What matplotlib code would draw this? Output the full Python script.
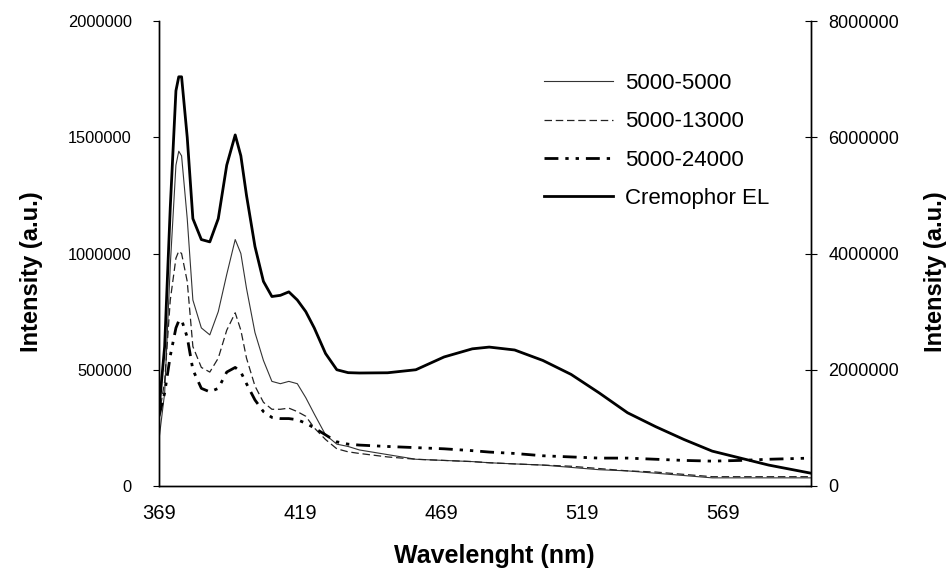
"""Fluorescence spectra: polymer micelles vs Cremophor EL"""
import matplotlib
matplotlib.use("Agg")
import matplotlib.pyplot as plt

plt.rcParams['font.family'] = ['Liberation Sans', 'DejaVu Sans']

# wavelength grid (nm)
wavelength = [369, 371, 373, 375, 376, 377, 379, 381, 384, 387, 390, 393, 396, 398, 400,
              403, 406, 409, 412, 415, 418, 421, 424, 428, 432, 436, 440, 450, 460, 470,
              480, 486, 495, 505, 515, 525, 535, 545, 555, 565, 575, 585, 600]

# left axis series (a.u., millions)
s_5000_5000 = [0.20, 0.40, 0.95, 1.38, 1.44, 1.42, 1.15, 0.80, 0.68, 0.65, 0.75, 0.91, 1.06, 1.00, 0.85,
               0.66, 0.54, 0.45, 0.44, 0.45, 0.44, 0.38, 0.31, 0.22, 0.18, 0.17, 0.155, 0.135, 0.115, 0.11,
               0.105, 0.10, 0.095, 0.09, 0.08, 0.07, 0.065, 0.055, 0.045, 0.035, 0.035, 0.035, 0.035]
s_5000_13000 = [0.30, 0.45, 0.80, 0.98, 1.01, 1.00, 0.88, 0.60, 0.51, 0.49, 0.55, 0.67, 0.745, 0.67, 0.55,
                0.43, 0.36, 0.33, 0.33, 0.335, 0.32, 0.30, 0.25, 0.20, 0.16, 0.147, 0.14, 0.125, 0.115, 0.11,
                0.105, 0.10, 0.095, 0.09, 0.085, 0.075, 0.065, 0.06, 0.05, 0.04, 0.04, 0.04, 0.04]
s_5000_24000 = [0.30, 0.40, 0.56, 0.68, 0.71, 0.715, 0.64, 0.50, 0.42, 0.405, 0.42, 0.49, 0.51, 0.49, 0.44,
                0.37, 0.32, 0.295, 0.29, 0.29, 0.285, 0.27, 0.25, 0.22, 0.19, 0.18, 0.176, 0.17, 0.165, 0.16,
                0.152, 0.146, 0.14, 0.13, 0.125, 0.12, 0.12, 0.115, 0.11, 0.107, 0.11, 0.115, 0.12]

# right axis series (a.u., millions)
cremophor = [1.32, 2.4, 4.8, 6.8, 7.04, 7.04, 6.0, 4.6, 4.24, 4.2, 4.6, 5.52, 6.04, 5.68, 5.0,
             4.12, 3.52, 3.26, 3.28, 3.34, 3.2, 3.0, 2.72, 2.28, 2.0, 1.95, 1.944, 1.948, 2.0, 2.22,
             2.36, 2.39, 2.34, 2.16, 1.92, 1.6, 1.26, 1.02, 0.8, 0.6, 0.48, 0.36, 0.22]

labels = ['5000-5000', '5000-13000', '5000-24000', 'Cremophor EL']
x_ticks = [369, 419, 469, 519, 569]
left_ticks = [0, 500000, 1000000, 1500000, 2000000]
right_ticks = [0, 2000000, 4000000, 6000000, 8000000]

fig = plt.figure(figsize=(9.51, 5.68), dpi=100)
ax = fig.add_axes([159 / 951, 1 - 486 / 568, 652 / 951, 465 / 568])
ax2 = ax.twinx()

M = 1e6
l1, = ax.plot(wavelength, [v * M for v in s_5000_5000], color='#333333', lw=0.8)
l2, = ax.plot(wavelength, [v * M for v in s_5000_13000], color='#222222', lw=0.9, dashes=(6, 3))
l3, = ax.plot(wavelength, [v * M for v in s_5000_24000], color='black', lw=2.0,
              dashes=(5, 2.5, 1.2, 2.5, 1.2, 2.5))
l4, = ax2.plot(wavelength, [v * M for v in cremophor], color='black', lw=2.0)

ax.set_xlim(369, 600)
ax.set_ylim(0, 2000000)
ax2.set_ylim(0, 8000000)

ax.set_xticks(x_ticks)
ax.set_xticklabels([str(t) for t in x_ticks], fontsize=14.5)
ax.tick_params(axis='x', length=0, pad=13)
ax.set_yticks(left_ticks)
ax.set_yticklabels([str(t) for t in left_ticks], fontsize=11.8)
ax.tick_params(axis='y', length=4.5, direction='out', pad=15)
ax2.set_yticks(right_ticks)
ax2.set_yticklabels([str(t) for t in right_ticks], fontsize=13)
ax2.tick_params(axis='y', length=9, direction='inout', pad=8)

for a in (ax, ax2):
    a.spines['top'].set_visible(False)
    for s in a.spines.values():
        s.set_linewidth(1.0)

ax.set_xlabel('Wavelenght (nm)', fontsize=18, fontweight='bold')
ax.set_ylabel('Intensity (a.u.)', fontsize=17, fontweight='bold')
ax2.set_ylabel('Intensity (a.u.)', fontsize=17, fontweight='bold')
ax.xaxis.set_label_coords(0.515, -0.125)
ax.yaxis.set_label_coords(-0.178, 0.46)
ax2.yaxis.set_label_coords(1.174, 0.46)

ax2.legend([l1, l2, l3, l4], labels, loc='upper left', bbox_to_anchor=(544 / 951, 1 - 73 / 568),
           bbox_transform=fig.transFigure, frameon=False, fontsize=16, handlelength=3.1,
           handletextpad=0.55, labelspacing=0.78, borderpad=0, borderaxespad=0)

plt.savefig('out.png', dpi=100)
